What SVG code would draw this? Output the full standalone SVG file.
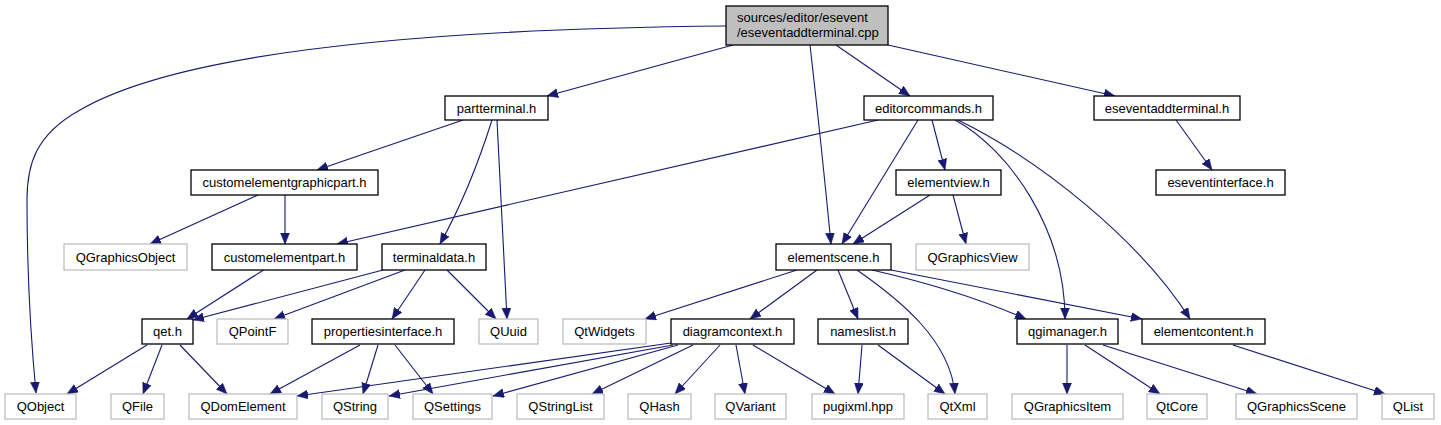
<svg xmlns="http://www.w3.org/2000/svg" width="1441" height="425" viewBox="0 0 1441 425">
<style>
.n rect{fill:#fff;stroke:#000;stroke-width:1.3}
.x rect{fill:#fff;stroke:#bfbfbf;stroke-width:1.3}
.r rect{fill:#bfbfbf;stroke:#000;stroke-width:1.3}
text{font-family:"Liberation Sans",Arial,sans-serif;font-size:13px;fill:#000}
.c text{text-anchor:middle}
#edges path{fill:none;stroke:#191970;stroke-width:1.1;marker-end:url(#ah)}
</style>
<defs>
<marker id="ah" markerUnits="userSpaceOnUse" markerWidth="12" markerHeight="10" refX="11" refY="4.5" orient="auto" viewBox="0 0 12 10">
<path d="M0,0 L11,4.5 L0,9 z" fill="#191970" stroke="#191970" stroke-width="0.5"/>
</marker>
</defs>
<rect width="1441" height="425" fill="#fff"/>
<g id="edges">
<path d="M726,26 C520,28 200,40 80,110 C35,135 27,165 27,200 C27,270 30,330 36,393"/>
<path d="M733,45 L547,96"/>
<path d="M810,45 Q822,150 831,244"/>
<path d="M836,45 L910,96"/>
<path d="M888,45 L1115,96"/>
<path d="M463,120 L317,170"/>
<path d="M492,120 Q470,190 440,244"/>
<path d="M497,120 Q502,220 507,319"/>
<path d="M878,120 L337,244"/>
<path d="M918,120 L842,244"/>
<path d="M932,120 L945,170"/>
<path d="M955,120 C1010,150 1065,230 1065,319"/>
<path d="M958,120 C1040,160 1140,240 1190,319"/>
<path d="M1176,120 L1212,170"/>
<path d="M258,195 L150,244"/>
<path d="M285,195 L285,244"/>
<path d="M930,195 L853,244"/>
<path d="M953,195 L966,244"/>
<path d="M265,269 L187,319"/>
<path d="M383,270 L193,320"/>
<path d="M405,270 L274,319"/>
<path d="M425,270 L392,319"/>
<path d="M447,270 L496,319"/>
<path d="M797,270 L645,319"/>
<path d="M817,270 L750,319"/>
<path d="M838,270 L858,319"/>
<path d="M857,270 C900,300 950,340 955,394"/>
<path d="M872,270 Q960,290 1026,319"/>
<path d="M891,270 L1142,319"/>
<path d="M671,343 L297,396"/>
<path d="M673,345 L389,396"/>
<path d="M678,345 L493,396"/>
<path d="M693,345 L592,394"/>
<path d="M720,345 L675,394"/>
<path d="M736,345 L745,394"/>
<path d="M753,345 L835,394"/>
<path d="M862,345 L858,394"/>
<path d="M878,345 L945,394"/>
<path d="M147,345 L67,394"/>
<path d="M162,345 L143,394"/>
<path d="M180,345 L227,394"/>
<path d="M360,345 L270,394"/>
<path d="M378,345 L363,394"/>
<path d="M395,345 L433,394"/>
<path d="M1067,345 L1067,394"/>
<path d="M1085,345 L1160,394"/>
<path d="M1103,345 L1257,394"/>
<path d="M1233,345 L1385,394"/>
</g>
<g id="root" class="r"><rect x="726" y="6" width="162" height="39"/><text x="737" y="22">sources/editor/esevent</text><text x="737" y="37">/eseventaddterminal.cpp</text></g>
<g id="partterminal" class="n c"><rect x="445" y="96" width="103" height="24"/><text x="496.5" y="112.5">partterminal.h</text></g>
<g id="editorcommands" class="n c"><rect x="864" y="96" width="129" height="24"/><text x="928.5" y="112.5">editorcommands.h</text></g>
<g id="eseventaddterminal" class="n c"><rect x="1094" y="96" width="146" height="24"/><text x="1167" y="112.5">eseventaddterminal.h</text></g>
<g id="customelementgraphicpart" class="n c"><rect x="191" y="170" width="187" height="25"/><text x="284.5" y="187">customelementgraphicpart.h</text></g>
<g id="elementview" class="n c"><rect x="896" y="170" width="105" height="25"/><text x="948.5" y="187">elementview.h</text></g>
<g id="eseventinterface" class="n c"><rect x="1156" y="170" width="129" height="25"/><text x="1220.5" y="187">eseventinterface.h</text></g>
<g id="QGraphicsObject" class="x c"><rect x="64" y="244" width="123" height="26"/><text x="125.5" y="261.5">QGraphicsObject</text></g>
<g id="customelementpart" class="n c"><rect x="212" y="244" width="145" height="26"/><text x="284.5" y="261.5">customelementpart.h</text></g>
<g id="terminaldata" class="n c"><rect x="382" y="244" width="104" height="26"/><text x="434" y="261.5">terminaldata.h</text></g>
<g id="elementscene" class="n c"><rect x="776" y="244" width="115" height="26"/><text x="833.5" y="261.5">elementscene.h</text></g>
<g id="QGraphicsView" class="x c"><rect x="916" y="244" width="113" height="26"/><text x="972.5" y="261.5">QGraphicsView</text></g>
<g id="qet" class="n c"><rect x="142" y="319" width="51" height="25"/><text x="167.5" y="336">qet.h</text></g>
<g id="QPointF" class="x c"><rect x="217" y="319" width="71" height="25"/><text x="252.5" y="336">QPointF</text></g>
<g id="propertiesinterface" class="n c"><rect x="312" y="319" width="142" height="25"/><text x="383" y="336">propertiesinterface.h</text></g>
<g id="QUuid" class="x c"><rect x="479" y="319" width="59" height="25"/><text x="508.5" y="336">QUuid</text></g>
<g id="QtWidgets" class="x c"><rect x="563" y="319" width="83" height="25"/><text x="604.5" y="336">QtWidgets</text></g>
<g id="diagramcontext" class="n c"><rect x="671" y="319" width="123" height="25"/><text x="732.5" y="336">diagramcontext.h</text></g>
<g id="nameslist" class="n c"><rect x="818" y="319" width="90" height="25"/><text x="863" y="336">nameslist.h</text></g>
<g id="qgimanager" class="n c"><rect x="1017" y="319" width="101" height="25"/><text x="1067.5" y="336">qgimanager.h</text></g>
<g id="elementcontent" class="n c"><rect x="1142" y="319" width="123" height="25"/><text x="1203.5" y="336">elementcontent.h</text></g>
<g id="QObject" class="x c"><rect x="5" y="394" width="71" height="25"/><text x="40.5" y="411">QObject</text></g>
<g id="QFile" class="x c"><rect x="111" y="394" width="53" height="25"/><text x="137.5" y="411">QFile</text></g>
<g id="QDomElement" class="x c"><rect x="189" y="394" width="108" height="25"/><text x="243" y="411">QDomElement</text></g>
<g id="QString" class="x c"><rect x="322" y="394" width="66" height="25"/><text x="355" y="411">QString</text></g>
<g id="QSettings" class="x c"><rect x="413" y="394" width="79" height="25"/><text x="452.5" y="411">QSettings</text></g>
<g id="QStringList" class="x c"><rect x="517" y="394" width="87" height="25"/><text x="560.5" y="411">QStringList</text></g>
<g id="QHash" class="x c"><rect x="628" y="394" width="63" height="25"/><text x="659.5" y="411">QHash</text></g>
<g id="QVariant" class="x c"><rect x="715" y="394" width="71" height="25"/><text x="750.5" y="411">QVariant</text></g>
<g id="pugixml" class="x c"><rect x="812" y="394" width="92" height="25"/><text x="858" y="411">pugixml.hpp</text></g>
<g id="QtXml" class="x c"><rect x="928" y="394" width="59" height="25"/><text x="957.5" y="411">QtXml</text></g>
<g id="QGraphicsItem" class="x c"><rect x="1012" y="394" width="111" height="25"/><text x="1067.5" y="411">QGraphicsItem</text></g>
<g id="QtCore" class="x c"><rect x="1147" y="394" width="60" height="25"/><text x="1177" y="411">QtCore</text></g>
<g id="QGraphicsScene" class="x c"><rect x="1236" y="394" width="121" height="25"/><text x="1296.5" y="411">QGraphicsScene</text></g>
<g id="QList" class="x c"><rect x="1382" y="394" width="52" height="25"/><text x="1408" y="411">QList</text></g>
</svg>
